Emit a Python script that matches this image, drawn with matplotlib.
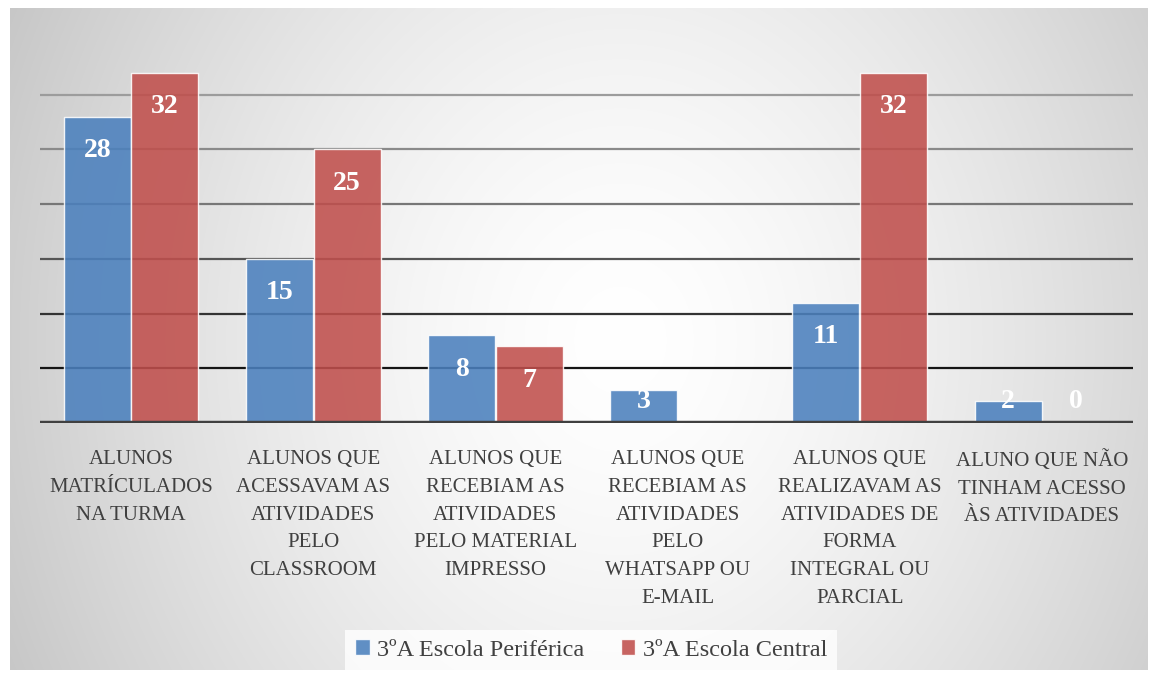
import matplotlib
matplotlib.use("Agg")
import matplotlib.pyplot as plt
import numpy as np
from matplotlib.transforms import blended_transform_factory

# ---- data ----
categories = [
    "ALUNOS\nMATRÍCULADOS\nNA TURMA",
    "ALUNOS QUE\nACESSAVAM AS\nATIVIDADES\nPELO\nCLASSROOM",
    "ALUNOS QUE\nRECEBIAM AS\nATIVIDADES\nPELO MATERIAL\nIMPRESSO",
    "ALUNOS QUE\nRECEBIAM AS\nATIVIDADES\nPELO\nWHATSAPP OU\nE-MAIL",
    "ALUNOS QUE\nREALIZAVAM AS\nATIVIDADES DE\nFORMA\nINTEGRAL OU\nPARCIAL",
    "ALUNO QUE NÃO\nTINHAM ACESSO\nÀS ATIVIDADES",
]
periferica = [28, 15, 8, 3, 11, 2]
central = [32, 25, 7, 0, 32, 0]
# which value labels are shown in the original (the WhatsApp "0" is not shown)
periferica_labels = ["28", "15", "8", "3", "11", "2"]
central_labels = ["32", "25", "7", "", "32", "0"]
series_names = ["3ºA Escola Periférica", "3ºA Escola Central"]
grid_values = [5, 10, 15, 20, 25, 30]
grid_colors = ["#151515", "#333333", "#555555", "#777777", "#8a8a8a", "#9c9c9c"]

W, H = 1150, 677
SERIF = ["Liberation Serif", "DejaVu Serif"]
fig = plt.figure(figsize=(W / 100, H / 100), dpi=100)
fig.patch.set_facecolor("white")

# ---- radial gradient background panel ----
bx0, by0, bw, bh = 10, 7, 1138, 662
bg = fig.add_axes([bx0 / W, by0 / H, bw / W, bh / H], zorder=0)
yy, xx = np.mgrid[0:bh, 0:bw]
cx, cy = 620 - bx0, 340 - (H - by0 - bh)
dx = (xx - cx) / (bw / 2.0)
dy = (yy - cy) / (bh / 2.0)
r = np.hypot(dx, 0.5 * dy)
v = 1.0 - 0.17 * np.clip(r, 0, 1.4) ** 1.5
bg.imshow(np.dstack([v, v, v]), aspect="auto", origin="upper", interpolation="bilinear")
bg.axis("off")

# ---- main axes ----
ax = fig.add_axes([40 / W, (H - 423) / H, (1133 - 40) / W, 383 / H], zorder=1)
ax.patch.set_alpha(0)
ax.set_xlim(-0.5, len(categories) - 0.5)
ax.set_ylim(0, 35)
for s in ax.spines.values():
    s.set_visible(False)
ax.set_xticks([])
ax.set_yticks([])

for gv, gc in zip(grid_values, grid_colors):
    ax.axhline(gv, color=gc, lw=1.6, zorder=1)
ax.axhline(0, color="#404040", lw=3.2, zorder=4)

x = np.arange(len(categories))
bw_ = 0.368
off = 0.186
b1 = ax.bar(x - off, periferica, bw_, color="#4B80BD", alpha=0.88,
            edgecolor=(1, 1, 1, 0.55), lw=1.0, zorder=2, label=series_names[0])
b2 = ax.bar(x + off, central, bw_, color="#C04F4C", alpha=0.88,
            edgecolor=(1, 1, 1, 0.55), lw=1.0, zorder=2, label=series_names[1])

for xs, vals, labs in ((x - off, periferica, periferica_labels),
                       (x + off, central, central_labels)):
    for xi, vi, lab in zip(xs, vals, labs):
        if lab:
            ax.text(xi, max(vi - 3.1, 1.95), lab, ha="center", va="center",
                    color="white", fontweight="bold", fontsize=20, family=SERIF, zorder=5)

tr = blended_transform_factory(ax.transData, ax.transAxes)
for xi, cat in zip(x, categories):
    ax.text(xi, -0.071, cat, transform=tr, ha="center", va="top", fontsize=15,
            linespacing=1.62, color="#404040", family=SERIF)

leg = fig.legend(handles=[b1, b2], labels=series_names, loc="center",
                 bbox_to_anchor=(0.514, 27 / H), ncol=2,
                 handlelength=0.6, handleheight=0.6, handletextpad=0.3,
                 columnspacing=1.5, frameon=True, fancybox=False,
                 prop={"family": SERIF, "size": 17.5})
leg.get_frame().set_facecolor((1, 1, 1, 0.12))
leg.get_frame().set_edgecolor("none")
for t in leg.get_texts():
    t.set_color("#404040")

fig.savefig("out.png", dpi=100, facecolor="white")
